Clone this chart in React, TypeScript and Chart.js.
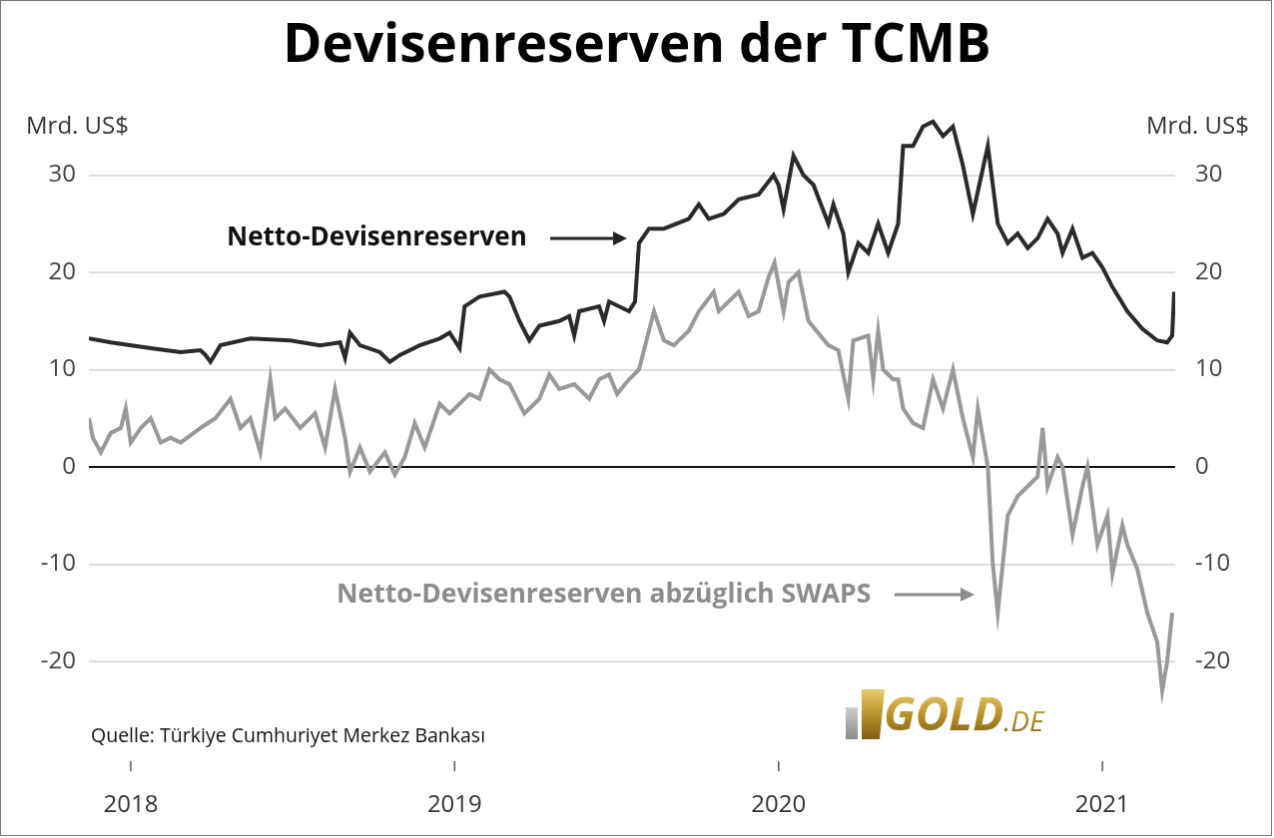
import React, { useEffect, useRef } from "react";
import { Chart, registerables } from "chart.js";
Chart.register(...registerables);

const pxToYear = (px: number) => 2018 + (px - 130) / 325;

const netPx = [88,110,150,180,200,205,210,220,250,290,320,340,345,350,360,380,390,400,420,440,450,460,465,480,505,510,520,530,540,560,570,575,580,600,605,610,630,636,640,650,665,690,700,710,725,740,760,775,780,785,795,805,815,830,835,845,850,860,870,880,890,900,905,915,925,935,945,955,965,975,990,1000,1010,1020,1030,1040,1050,1060,1065,1075,1085,1095,1105,1115,1130,1145,1160,1170,1175,1177];
const netValues = [13.2,12.8,12.2,11.8,12.0,11.5,10.8,12.5,13.2,13,12.5,12.8,11.2,13.8,12.5,11.8,10.8,11.5,12.5,13.2,13.8,12.2,16.5,17.5,18.0,17.5,15,13,14.5,15,15.5,13.5,16,16.5,15,17,16,17.0,23,24.5,24.5,25.5,27,25.5,26,27.5,28,30,29,26.5,32,30,29,25,27,24,20,23,22,25,22,25,33,33,35,35.5,34,35,31,26,33,25,23,24,22.5,23.5,25.5,24,22,24.5,21.5,22,20.5,18.5,16,14.2,13,12.8,13.5,18];

const swapPx = [88,92,100,110,120,125,130,140,150,160,170,180,200,215,230,240,250,260,270,275,285,300,315,325,335,345,350,360,370,385,395,405,415,425,435,440,450,470,480,490,500,510,525,540,550,560,575,590,600,610,618,630,640,650,655,665,675,690,700,715,720,740,750,760,770,776,785,790,800,810,830,840,850,855,870,875,880,885,895,900,905,915,925,935,945,955,965,975,980,985,990,995,1000,1010,1020,1030,1040,1045,1050,1060,1065,1075,1085,1090,1100,1110,1115,1125,1130,1140,1150,1160,1165,1170,1175];
const swapValues = [5,3,1.5,3.5,4,6,2.5,4,5,2.5,3,2.5,4,5,7,4,5,1.5,9,5,6,4,5.5,2,8,3,-0.5,2,-0.5,1.5,-0.8,1,4.5,2,5,6.5,5.5,7.5,7,10,9,8.5,5.5,7,9.5,8,8.5,7,9,9.5,7.5,9,10,14,16,13,12.5,14,16,18,16,18,15.5,16,19.5,21,16,19,20,15,12.5,12,7,13,13.5,9,14,10,9,9,6,4.5,4,9,6,10,5,1,6,3,0,-10,-15,-5,-3,-2,-1,4,-2,1,0,-7,-2,0,-8,-5,-11,-6,-8,-10.5,-15,-18,-23,-20,-15];

const yearTicks = [2018, 2019, 2020, 2021];
const yTicks = [-20, -10, 0, 10, 20, 30];

const FONT = "'Open Sans', 'Noto Sans', sans-serif";

const overlay = {
  id: "overlay",
  afterDraw(chart: any) {
    const ctx = chart.ctx as CanvasRenderingContext2D;
    ctx.save();
    ctx.textBaseline = "middle";
    ctx.fillStyle = "#000";
    ctx.font = `bold 53px ${FONT}`;
    ctx.textAlign = "center";
    ctx.fillText("Devisenreserven der TCMB", 637, 46);
    ctx.font = `24px ${FONT}`;
    ctx.fillStyle = "#333";
    ctx.textAlign = "left";
    ctx.fillText("Mrd. US$", 25, 126);
    ctx.textAlign = "right";
    ctx.fillText("Mrd. US$", 1250, 126);
    ctx.font = `bold 26px ${FONT}`;
    ctx.textAlign = "left";
    ctx.fillStyle = "#111";
    ctx.fillText("Netto-Devisenreserven", 226, 238);
    ctx.font = `bold 26.5px ${FONT}`;
    ctx.fillStyle = "#8c8c8c";
    ctx.fillText("Netto-Devisenreserven abzüglich SWAPS", 336, 595);
    const arrow = (x1: number, x2: number, y: number, c: string) => {
      ctx.strokeStyle = c; ctx.fillStyle = c; ctx.lineWidth = 3;
      ctx.beginPath(); ctx.moveTo(x1, y); ctx.lineTo(x2 - 10, y); ctx.stroke();
      ctx.beginPath(); ctx.moveTo(x2, y); ctx.lineTo(x2 - 14, y - 7); ctx.lineTo(x2 - 14, y + 7); ctx.closePath(); ctx.fill();
    };
    arrow(550, 627, 238, "#222");
    arrow(895, 975, 595, "#8c8c8c");
    ctx.font = `19.5px ${FONT}`;
    ctx.fillStyle = "#111";
    ctx.fillText("Quelle: Türkiye Cumhuriyet Merkez Bankası", 90, 737);
    const g = ctx.createLinearGradient(0, 690, 0, 742);
    g.addColorStop(0, "#e8cf6a"); g.addColorStop(0.5, "#b8912a"); g.addColorStop(1, "#7a5a12");
    const s = ctx.createLinearGradient(0, 700, 0, 742);
    s.addColorStop(0, "#ddd"); s.addColorStop(1, "#888");
    ctx.fillStyle = s;
    ctx.fillRect(846, 708, 12, 32);
    ctx.fillStyle = g;
    ctx.beginPath(); ctx.moveTo(862, 690); ctx.lineTo(885, 690); ctx.lineTo(880, 740); ctx.lineTo(862, 740); ctx.closePath(); ctx.fill();
    ctx.font = `italic bold 46px ${FONT}`;
    ctx.fillStyle = g;
    ctx.fillText("GOLD", 884, 718);
    const w = ctx.measureText("GOLD").width;
    ctx.font = `italic 28px ${FONT}`;
    ctx.fillText(".DE", 884 + w, 724);
    ctx.strokeStyle = "#555"; ctx.lineWidth = 1.5;
    const xs = chart.scales.x;
    for (const t of yearTicks) {
      const x = xs.getPixelForValue(t);
      ctx.beginPath(); ctx.moveTo(x, 762); ctx.lineTo(x, 772); ctx.stroke();
    }
    ctx.restore();
  },
};

export default function App() {
  const ref = useRef<HTMLCanvasElement>(null);
  useEffect(() => {
    document.body.style.margin = "0";
    const net = netPx.map((p, i) => ({ x: pxToYear(p), y: netValues[i] }));
    const swp = swapPx.map((p, i) => ({ x: pxToYear(p), y: swapValues[i] }));
    const tickFont = { family: FONT, size: 24 };
    const chart = new Chart(ref.current!, {
      type: "line",
      data: {
        datasets: [
          { data: net, borderColor: "#2a2a2a", borderWidth: 4, pointRadius: 0, tension: 0 },
          { data: swp, borderColor: "#999999", borderWidth: 4, pointRadius: 0, tension: 0 },
        ],
      },
      options: {
        animation: false,
        responsive: false,
        layout: { padding: { top: 116, left: 0, right: 0, bottom: 0 } },
        plugins: { legend: { display: false }, tooltip: { enabled: false } },
        scales: {
          x: {
            type: "linear",
            min: pxToYear(88),
            max: pxToYear(1178),
            afterBuildTicks: (s: any) => { s.ticks = yearTicks.map((v) => ({ value: v })); },
            afterFit: (s: any) => { s.height = 96; },
            grid: { display: false },
            border: { display: false },
            ticks: { font: tickFont, color: "#333", padding: 44, callback: (v: any) => String(v), maxRotation: 0 },
          },
          y: {
            position: "left",
            min: -28, max: 36,
            afterBuildTicks: (s: any) => { s.ticks = yTicks.map((v) => ({ value: v })); },
            afterFit: (s: any) => { s.width = 88; },
            border: { display: false },
            grid: {
              color: (c: any) => (c.tick && c.tick.value === 0 ? "#111" : "#dddddd"),
              lineWidth: 2,
              drawTicks: false,
            },
            ticks: { font: tickFont, color: "#444", padding: 13 },
          },
          y2: {
            position: "right",
            min: -28, max: 36,
            afterBuildTicks: (s: any) => { s.ticks = yTicks.map((v) => ({ value: v })); },
            afterFit: (s: any) => { s.width = 96; },
            border: { display: false },
            grid: { display: false },
            ticks: { font: tickFont, color: "#444", padding: 12 },
          },
        },
      },
      plugins: [overlay],
    });
    return () => chart.destroy();
  }, []);
  return (
    <div style={{ width: 1274, height: 838, position: "relative", background: "#fff" }}>
      <canvas ref={ref} width={1272} height={836} style={{ border: "1px solid #777", display: "block" }} />
    </div>
  );
}
